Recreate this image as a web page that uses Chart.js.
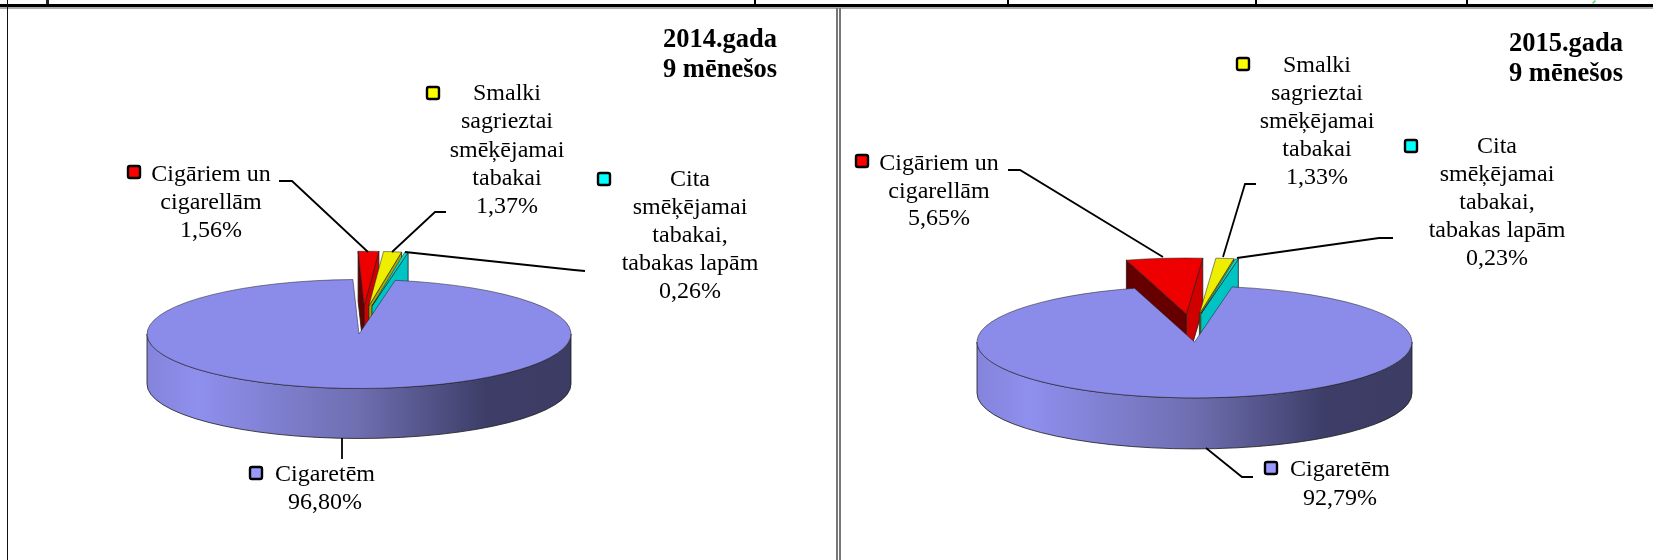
<!DOCTYPE html>
<html>
<head>
<meta charset="utf-8">
<title>Tabakas izstrādājumi</title>
<script src="https://cdn.jsdelivr.net/npm/chart.js@4/dist/chart.umd.min.js"></script>
<style>
    html, body { margin: 0; padding: 0; background: #fff; }
    body { width: 1653px; height: 560px; position: relative; overflow: hidden; }
    canvas { position: absolute; left: 0; top: 0; }
    .rule { position: absolute; }
</style>
</head>
<body>
<div class="rule" style="left:0;top:4px;width:1653px;height:3px;background:#000"></div>
<div class="rule" style="left:0;top:7px;width:1653px;height:2px;background:#aaa"></div>
<div class="rule" style="left:7px;top:0;width:1px;height:560px;background:#111"></div>
<div class="rule" style="left:46px;top:0;width:3px;height:4px;background:#222"></div>
<div class="rule" style="left:754px;top:0;width:2px;height:5px;background:#000"></div>
<div class="rule" style="left:1007px;top:0;width:2px;height:5px;background:#000"></div>
<div class="rule" style="left:1255px;top:0;width:2px;height:5px;background:#000"></div>
<div class="rule" style="left:1466px;top:0;width:2px;height:5px;background:#000"></div>
<div class="rule" style="left:1592px;top:1px;width:4px;height:2px;background:#6fe08a;transform:rotate(-45deg)"></div>
<div class="rule" style="left:836px;top:8px;width:2px;height:552px;background:#777"></div>
<div class="rule" style="left:839px;top:8px;width:2px;height:552px;background:#777"></div>
<canvas id="chart2014" width="1653" height="560"></canvas>
<canvas id="chart2015" width="1653" height="560"></canvas>
<script>
const categories = [
    "Cigāriem un cigarellām",
    "Smalki sagrieztai smēķējamai tabakai",
    "Cita smēķējamai tabakai, tabakas lapām",
    "Cigaretēm"
]
const category_lines = [
    ["Cigāriem un", "cigarellām"],
    ["Smalki", "sagrieztai", "smēķējamai", "tabakai"],
    ["Cita", "smēķējamai", "tabakai,", "tabakas lapām"],
    ["Cigaretēm"]
]
const values_2014 = [1.56, 1.37, 0.26, 96.80]
const values_2015 = [5.65, 1.33, 0.23, 92.79]

const top_colors = ["#ee0000", "#eeee00", "#00dcdc", "#8b8bea"]
const marker_colors = ["#ff0000", "#ffff00", "#00ffff", "#9999ff"]
// [start edge, end edge], null where the wall doesn't show
const wall_colors = [["#660000", "#d00000"], [null, "#a8a800"], [null, "#00c4c4"]]

// how far the small slices are pulled out of the pie, px
const explode = [110, 110, 110, 0]
const squash = 0.257

function serif(px, bold) {
    return (bold ? "bold " : "") + px + 'px "Liberation Serif", "Times New Roman", serif'
}

function arcShift(arc) {
    let half = (arc.startAngle + arc.endAngle) / 2
    let d = arc.options.offset / 4
    return { x: Math.cos(half) * d, y: Math.sin(half) * d }
}

function drawEdgeWall(ctx, cx, cy, r, angle, depth, color) {
    if (!color) return
    let px = cx + Math.cos(angle) * r
    let py = cy + Math.sin(angle) * r * squash
    ctx.beginPath()
    ctx.moveTo(cx, cy)
    ctx.lineTo(px, py)
    ctx.lineTo(px, py + depth)
    ctx.lineTo(cx, cy + depth)
    ctx.closePath()
    ctx.fillStyle = color
    ctx.fill()
    ctx.stroke()
}

function drawRim(ctx, arc, depth) {
    let r = arc.outerRadius
    let ry = r * squash
    let grad = ctx.createLinearGradient(arc.x - r, 0, arc.x + r, 0)
    grad.addColorStop(0, "#8484dc")
    grad.addColorStop(0.12, "#8f8fee")
    grad.addColorStop(0.5, "#6e6eb0")
    grad.addColorStop(0.8, "#3d3d68")
    grad.addColorStop(1, "#3c3c64")
    ctx.beginPath()
    ctx.ellipse(arc.x, arc.y, r, ry, 0, 0, Math.PI)
    ctx.lineTo(arc.x - r, arc.y + depth)
    ctx.ellipse(arc.x, arc.y + depth, r, ry, 0, Math.PI, 0, true)
    ctx.closePath()
    ctx.fillStyle = grad
    ctx.fill()
    ctx.stroke()
}

const pie3d = {
    id: "pie3d",
    afterDatasetsUpdate(chart, args, opts) {
        let arcs = chart.getDatasetMeta(0).data
        arcs.forEach((arc, i) => {
            // excel pulls slices straighter up than chart.js does, so slide them sideways a bit
            arc.x += opts.nudge[i]
            // small arcs get narrowed by chart.js when they have an offset, this switches that off
            if (i < arcs.length - 1) arc.circumference = Math.PI / 2
        })
    },
    beforeDatasetsDraw(chart, args, opts) {
        let ctx = chart.ctx
        let arcs = chart.getDatasetMeta(0).data
        ctx.save()
        ctx.strokeStyle = "#1a1a1a"
        ctx.lineWidth = 0.8
        arcs.forEach((arc, i) => {
            if (i == arcs.length - 1) {
                drawRim(ctx, arc, opts.depth)
                return
            }
            let shift = arcShift(arc)
            let ax = arc.x + shift.x
            let ay = arc.y + shift.y * squash
            drawEdgeWall(ctx, ax, ay, arc.outerRadius, arc.startAngle, opts.depth, wall_colors[i][0])
            drawEdgeWall(ctx, ax, ay, arc.outerRadius, arc.endAngle, opts.depth, wall_colors[i][1])
        })
        ctx.restore()

        // tops of the slices: chart.js draws them, squashed into an ellipse
        ctx.save()
        let c = arcs[arcs.length - 1]
        ctx.translate(c.x, c.y)
        ctx.scale(1, squash)
        ctx.translate(-c.x, -c.y)
    },
    afterDatasetsDraw(chart, args, opts) {
        let ctx = chart.ctx
        ctx.restore()

        ctx.save()
        ctx.strokeStyle = "#000"
        ctx.lineWidth = 1.8
        for (let leader of opts.leaders) {
            ctx.beginPath()
            leader.forEach((p, i) => i ? ctx.lineTo(p[0], p[1]) : ctx.moveTo(p[0], p[1]))
            ctx.stroke()
        }

        ctx.fillStyle = "#000"
        ctx.textAlign = "center"
        ctx.textBaseline = "middle"
        ctx.font = serif(24, false)
        opts.labels.forEach((label, i) => {
            let lines = category_lines[i].concat(opts.values[i].toFixed(2).replace(".", ",") + "%")
            lines.forEach((line, n) => ctx.fillText(line, label.x, label.y + n * label.step))

            ctx.beginPath()
            ctx.roundRect(label.mx, label.my, 12, 12, 2)
            ctx.fillStyle = marker_colors[i]
            ctx.fill()
            ctx.lineWidth = 2.4
            ctx.strokeStyle = "#000"
            ctx.stroke()
            ctx.fillStyle = "#000"
        })

        ctx.font = serif(26.5, true)
        opts.title.lines.forEach((line, n) => ctx.fillText(line, opts.title.x, opts.title.y + n * opts.title.step))
        ctx.restore()
    }
}

function drawPie(id, values, rotation, radius, center, pluginOpts) {
    let el = document.getElementById(id)
    return new Chart(el, {
        type: "pie",
        data: {
            labels: categories,
            datasets: [{
                data: values,
                backgroundColor: top_colors,
                borderColor: "#1a1a1a",
                borderWidth: 0.8,
                offset: explode.map(px => px * 4), // arc moves by offset / 4
                clip: false
            }]
        },
        options: {
            responsive: false,
            animation: false,
            rotation: rotation,
            radius: radius,
            cutout: "0%", // a plain 0 gives NaN when the offset eats the whole chart area
            layout: {
                padding: {
                    left: center[0] > 826 ? 2 * center[0] - 1653 : 0,
                    right: center[0] > 826 ? 0 : 1653 - 2 * center[0],
                    top: center[1] > 280 ? 2 * center[1] - 560 : 0,
                    bottom: 0
                }
            },
            plugins: {
                legend: { display: false },
                tooltip: { enabled: false },
                pie3d: pluginOpts
            }
        },
        plugins: [pie3d]
    })
}

drawPie("chart2014", values_2014, -1.65, 212, [359, 334], {
    depth: 50,
    values: values_2014,
    nudge: [3, -2.5, -5, 0],
    title: { lines: ["2014.gada", "9 mēnešos"], x: 720, y: 40, step: 30.5 },
    labels: [
        { x: 211, y: 175, step: 28, mx: 128, my: 166 },
        { x: 507, y: 94, step: 28.2, mx: 427, my: 87 },
        { x: 690, y: 180, step: 28, mx: 598, my: 173 },
        { x: 325, y: 475, step: 28, mx: 250, my: 467 }
    ],
    leaders: [
        [[279, 181], [292, 181], [368, 252]],
        [[446, 212], [435, 212], [392, 252]],
        [[585, 271], [574, 270], [405, 252]],
        [[342, 438], [342, 459]]
    ]
})

drawPie("chart2015", values_2015, -16, 217.5, [1194.5, 342], {
    depth: 51,
    values: values_2015,
    nudge: [3, -8, -12, 0],
    title: { lines: ["2015.gada", "9 mēnešos"], x: 1566, y: 44, step: 30 },
    labels: [
        { x: 939, y: 164, step: 27.6, mx: 856, my: 155 },
        { x: 1317, y: 66, step: 28, mx: 1237, my: 58 },
        { x: 1497, y: 147, step: 28, mx: 1405, my: 140 },
        { x: 1340, y: 470, step: 28.5, mx: 1265, my: 462 }
    ],
    leaders: [
        [[1008, 170], [1020, 170], [1163, 257]],
        [[1256, 184], [1245, 184], [1223, 257]],
        [[1393, 238], [1379, 238], [1237, 258]],
        [[1253, 477], [1242, 477], [1206, 448]]
    ]
})
</script>
</body>
</html>
